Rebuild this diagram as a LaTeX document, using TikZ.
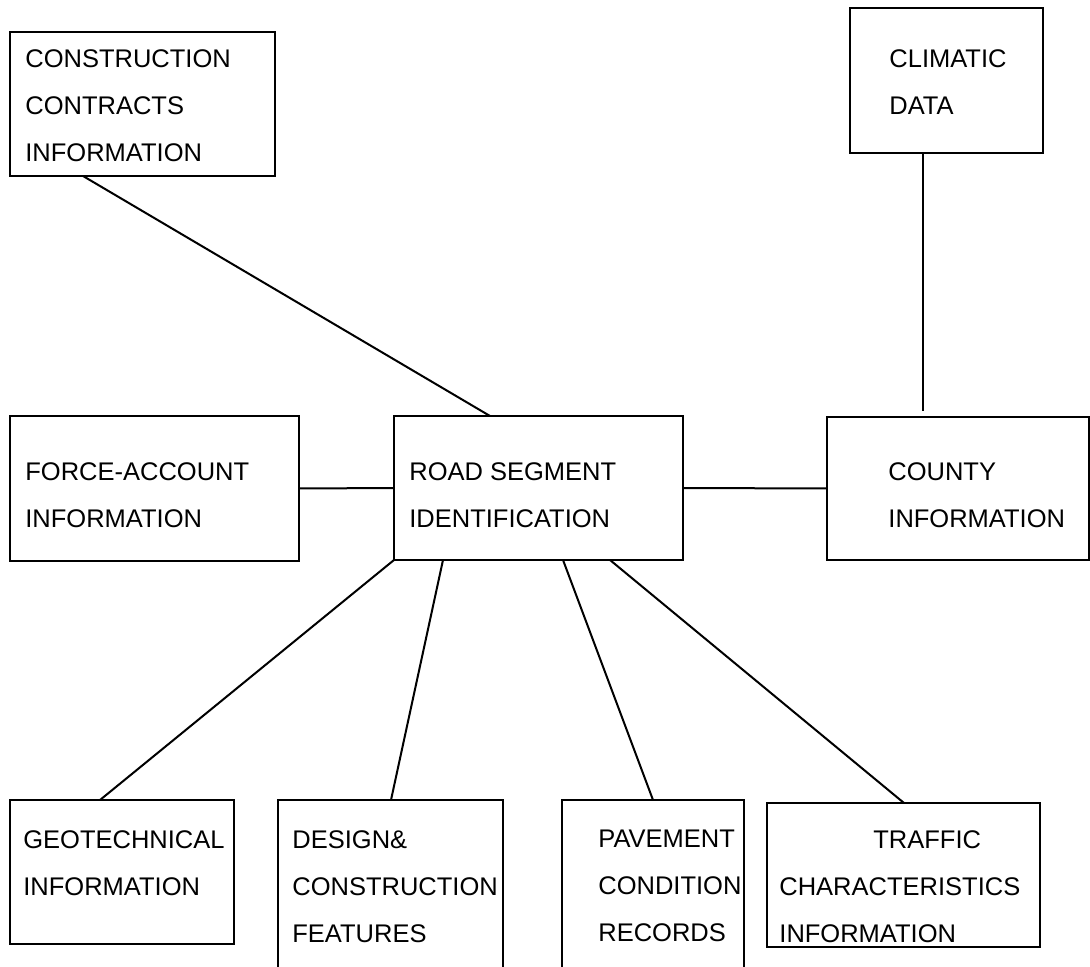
\documentclass[tikz,border=0pt]{standalone}
\usepackage{fontspec}
\setmainfont{Liberation Sans}

\begin{document}
\begin{tikzpicture}[x=0.5pt, y=-0.5pt,
    hop/.style={draw, line width=1pt, inner sep=0pt, outer sep=0pt},
    chu/.style={anchor=north west, inner sep=0pt, align=left,
        font=\fontsize{12.75}{23.5}\selectfont},
    noi/.style={line width=1pt}]
    \useasboundingbox (0,0) rectangle (1090,967);

    % Các hộp phía trên
    \node[hop, minimum width=132.5pt, minimum height=72pt] (hd) at (142.5,104) {};
    \node[hop, minimum width=96.5pt, minimum height=72.5pt] (kh) at (946.5,80.5) {};

    % Hàng giữa
    \node[hop, minimum width=144.5pt, minimum height=72.5pt] (lc) at (154.5,488.5) {};
    \node[hop, minimum width=144.5pt, minimum height=72pt] (road) at (538.5,488) {};
    \node[hop, minimum width=131pt, minimum height=71.5pt] (hat) at (958,488.5) {};

    % Hàng dưới
    \node[hop, minimum width=112pt, minimum height=72pt] (dc) at (122,872) {};
    \node[hop, minimum width=112.5pt, minimum height=92.5pt] (tk) at (390.5,892.5) {};
    \node[hop, minimum width=91pt, minimum height=92.5pt] (md) at (653,892.5) {};
    \node[hop, minimum width=136.5pt, minimum height=72pt] (gt) at (903.5,875) {};

    % Chữ trong hộp
    \node[chu] (hd-t) at (25,49) {CONSTRUCTION\\CONTRACTS\\INFORMATION};
    \node[chu] (kh-t) at (889,49) {CLIMATIC\\DATA};
    \node[chu] (lc-t) at (25,462) {FORCE-ACCOUNT\\INFORMATION};
    \node[chu] (road-t) at (409,462) {ROAD SEGMENT\\IDENTIFICATION};
    \node[chu] (hat-t) at (888,462) {COUNTY\\INFORMATION};
    \node[chu] (dc-t) at (23,830) {GEOTECHNICAL\\INFORMATION};
    \node[chu] (tk-t) at (292,830) {DESIGN\&\\CONSTRUCTION\\FEATURES};
    \node[chu] (md-t) at (598,830) {PAVEMENT\\CONDITION\\RECORDS};
    \node[chu] (gt-t) at (779,830) {\hspace*{47pt}TRAFFIC\\CHARACTERISTICS\\INFORMATION};

    % Đường nối
    \draw[noi] ([xshift=36.5pt]hd.south west) -- ([xshift=48pt]road.north west);
    \draw[noi] ([xshift=36.5pt]kh.south west) -- ([xshift=48pt, yshift=3pt]hat.north west);
    \draw[noi] (lc.east) -- (road.west);
    \draw[noi] (road.east) -- (hat.west);
    \draw[noi] (road.south west) -- ([xshift=45pt]dc.north west);
    \draw[noi] ([xshift=24.5pt]road.south west) -- ([xshift=56.5pt]tk.north west);
    \draw[noi] ([xshift=84.5pt]road.south west) -- ([xshift=45.5pt]md.north west);
    \draw[noi] ([xshift=108pt]road.south west) -- ([xshift=68.5pt]gt.north west);
\end{tikzpicture}
\end{document}
